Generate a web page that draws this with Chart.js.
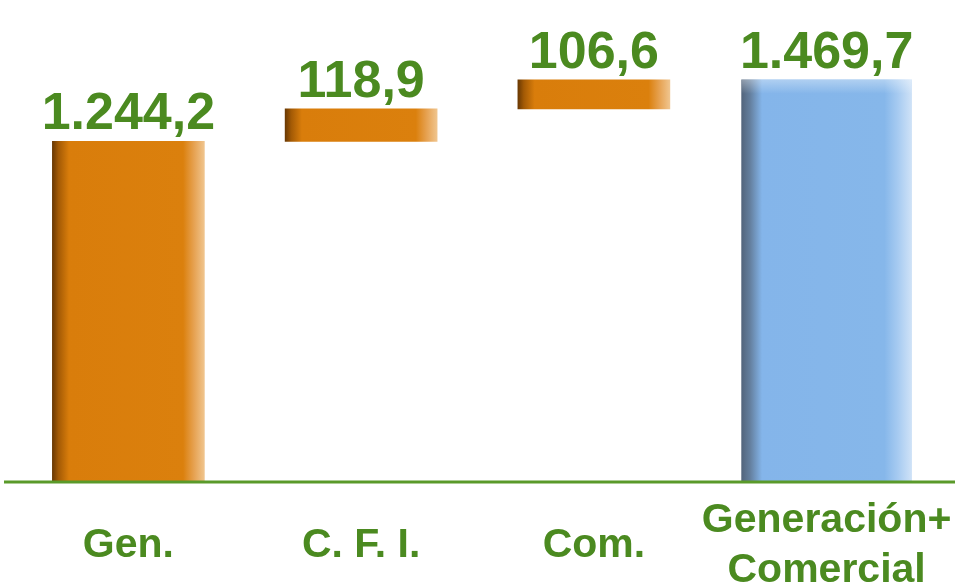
<!DOCTYPE html>
<html>
<head>
<meta charset="utf-8">
<script src="https://cdn.jsdelivr.net/npm/chart.js@4"></script>
<style>
  html, body { margin: 0; padding: 0; background: #fff; }
  #wrap { width: 955px; height: 585px; }
</style>
</head>
<body>
<div id="wrap"><canvas id="waterfall"></canvas></div>
<script>
// waterfall: generacion + cfi + comercial = total
const categories = ['Gen.', 'C. F. I.', 'Com.', ['Generación+', 'Comercial']]
const steps = [1244.2, 118.9, 106.6]
const total = 1469.7
const valueLabels = ['1.244,2', '118,9', '106,6', '1.469,7']

const GREEN = '#4b8a20'

// floating bars for the steps, built from running sum
let running = 0
const stepBars = steps.map(v => {
    const bar = [running, running + v]
    running += v
    return bar
})
stepBars.push(null)
const totalBars = [null, null, null, [0, total]]

const orangeStops = [[0, '#6a3903'], [0.04, '#a35a05'], [0.11, '#d97d0b'], [0.86, '#db800d'], [0.93, '#e6a150'], [1, '#f0c58e']]
const blueStops = [[0, '#53657c'], [0.05, '#647f9e'], [0.12, '#84b5ea'], [0.84, '#86b7ea'], [0.92, '#a7cbf1'], [1, '#cfe2f7']]

const shade = (stops) => (ctx) => {
    const chart = ctx.chart
    if (!chart.chartArea) return stops[2][1]
    const x = chart.scales.x.getPixelForValue(ctx.dataIndex)
    const w = ctx.dataset.barThickness
    const g = chart.ctx.createLinearGradient(x - w / 2, 0, x + w / 2, 0)
    stops.forEach(s => g.addColorStop(s[0], s[1]))
    return g
}

const valueLabelPlugin = {
    id: 'valueLabels',
    afterDatasetsDraw(chart) {
        const c = chart.ctx
        c.save()
        // soft highlight on top of the total bar
        chart.getDatasetMeta(1).data.forEach((el, i) => {
            if (!chart.data.datasets[1].data[i]) return
            const g = c.createLinearGradient(0, el.y, 0, el.y + 14)
            g.addColorStop(0, 'rgba(255,255,255,0.35)')
            g.addColorStop(1, 'rgba(255,255,255,0)')
            c.fillStyle = g
            c.fillRect(el.x - el.width / 2, el.y, el.width, 14)
        })

        // base line
        const y0 = chart.scales.y.getPixelForValue(0)
        c.strokeStyle = '#5a9a2a'
        c.lineWidth = 3
        c.beginPath()
        c.moveTo(4, y0 + 1)
        c.lineTo(chart.width, y0 + 1)
        c.stroke()

        c.fillStyle = GREEN
        c.font = 'bold 52px "Liberation Sans", Arial, sans-serif'
        c.textAlign = 'center'
        c.textBaseline = 'alphabetic'
        chart.data.datasets.forEach((ds, di) => {
            chart.getDatasetMeta(di).data.forEach((el, i) => {
                if (!ds.data[i]) return
                c.fillText(valueLabels[i], el.x, el.y - 12)
            })
        })
        c.restore()
    }
}

new Chart(document.getElementById('waterfall'), {
    type: 'bar',
    data: {
        labels: categories,
        datasets: [{
            data: stepBars,
            backgroundColor: shade(orangeStops),
            barThickness: 152,
            grouped: false,
            borderWidth: 0,
        }, {
            data: totalBars,
            backgroundColor: shade(blueStops),
            barThickness: 170,
            grouped: false,
            borderWidth: 0,
        }]
    },
    options: {
        responsive: true,
        maintainAspectRatio: false,
        animation: false,
        layout: { padding: { left: 12, right: 12, top: 0, bottom: 0 } },
        plugins: {
            legend: { display: false },
            tooltip: { enabled: false },
        },
        scales: {
            x: {
                grid: { display: false, drawTicks: false },
                border: { display: false },
                afterFit: (scale) => {
                    // let the long last label hang over, keep the category spacing
                    scale.paddingLeft = 0
                    scale.paddingRight = 0
                    scale.height = 104
                },
                ticks: {
                    color: GREEN,
                    padding: 40,
                    autoSkip: false,
                    maxRotation: 0,
                    crossAlign: 'center',
                    font: { family: '"Liberation Sans", Arial, sans-serif', weight: 'bold', size: 41, lineHeight: 1.2 },
                },
            },
            y: {
                display: false,
                min: 0,
                max: 1762,
            }
        }
    },
    plugins: [valueLabelPlugin]
})
</script>
</body>
</html>
